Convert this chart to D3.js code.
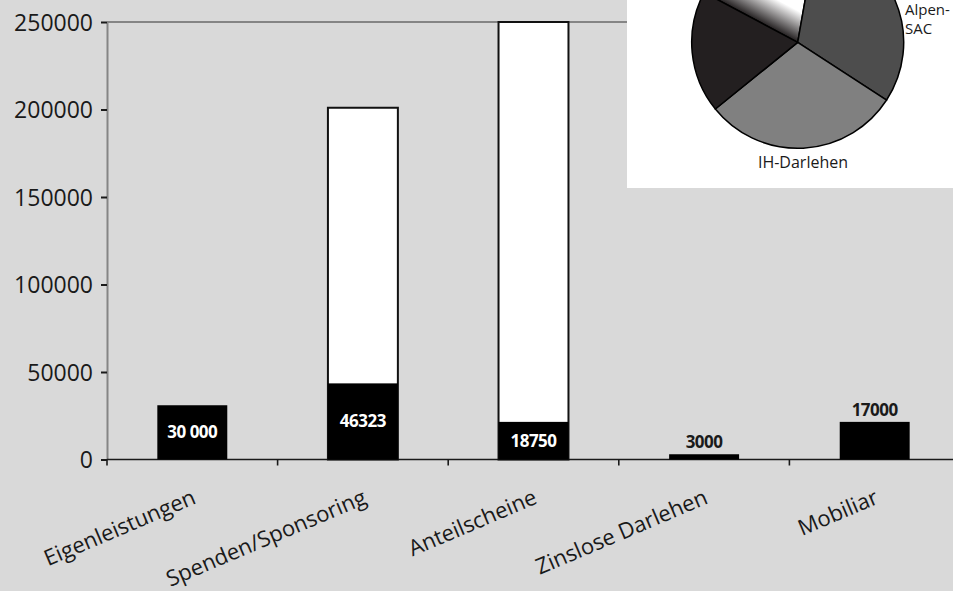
<!DOCTYPE html>
<html>
<head>
<meta charset="utf-8">
<script src="https://cdn.jsdelivr.net/npm/d3@7"></script>
<style>
  body { margin: 0; background: #d9d9d9; }
  svg { display: block; }
</style>
</head>
<body>
<div id="chart"></div>
<script>
// ---- data ----
var categories = ["Eigenleistungen", "Spenden/Sponsoring", "Anteilscheine", "Zinslose Darlehen", "Mobiliar"];
var paidValues = [31000, 43500, 21500, 3000, 21500];      // black part
var targetValues = [null, 201000, 250000, null, null];    // white outlined total
var barLabels = ["30 000", "46323", "18750", "3000", "17000"];
var labelInside = [true, true, true, false, false];
var yTicks = [0, 50000, 100000, 150000, 200000, 250000];

var pieNames = ["", "Alpen-SAC", "IH-Darlehen", ""];
var pieValues = [72, 113, 108, 67];

// ---- layout ----
var W = 953, H = 591;
var svg = d3.select("#chart").append("svg")
  .attr("width", W).attr("height", H);

svg.append("rect").attr("width", W).attr("height", H).attr("fill", "#d9d9d9");

var x = d3.scaleBand()
  .domain(categories)
  .range([107, 960])
  .paddingInner(0.59)
  .paddingOuter(0.295);

var y = d3.scaleLinear()
  .domain([0, 250000])
  .range([459.5, 22]);

// top line at max
svg.append("line")
  .attr("x1", 107).attr("x2", 640)
  .attr("y1", y(250000)).attr("y2", y(250000))
  .attr("stroke", "#858585").attr("stroke-width", 2);

// Y axis
var yAxis = svg.append("g")
  .attr("transform", "translate(107,0)")
  .call(d3.axisLeft(y).tickValues(yTicks).tickSize(6).tickSizeOuter(0).tickPadding(8)
    .tickFormat(d3.format("d")));
yAxis.select(".domain").attr("stroke", "#858585").attr("stroke-width", 2);
yAxis.selectAll(".tick line").attr("stroke", "#1a1a1a").attr("stroke-width", 2);
yAxis.selectAll(".tick text")
  .attr("font-family", "Open Sans, sans-serif")
  .attr("font-size", 23)
  .attr("fill", "#1a1a1a")
  .attr("dy", "0.36em");

// X axis line and boundary ticks
svg.append("line")
  .attr("x1", 107).attr("x2", W)
  .attr("y1", y(0)).attr("y2", y(0))
  .attr("stroke", "#1a1a1a").attr("stroke-width", 1.6);

var bounds = d3.range(categories.length + 1).map(function(i) { return x.range()[0] + i * x.step(); });
svg.selectAll(".xtick")
  .data(bounds)
  .enter()
  .append("line")
    .attr("class", "xtick")
    .attr("x1", function(d) { return d; })
    .attr("x2", function(d) { return d; })
    .attr("y1", y(0)).attr("y2", y(0) + 6)
    .attr("stroke", "#1a1a1a").attr("stroke-width", 1.6);

// X labels, rotated
svg.selectAll(".xlabel")
  .data(categories)
  .enter()
  .append("text")
    .attr("class", "xlabel")
    .attr("transform", function(d) {
      return "translate(" + (x(d) + x.bandwidth() / 2 + 5) + ",503) rotate(-23)";
    })
    .attr("text-anchor", "end")
    .attr("font-family", "Open Sans, sans-serif")
    .attr("font-size", 22)
    .attr("fill", "#1a1a1a")
    .text(function(d) { return d; });

// white outlined totals
svg.selectAll(".target")
  .data(categories.filter(function(d, i) { return targetValues[i] != null; }))
  .enter()
  .append("rect")
    .attr("class", "target")
    .attr("x", function(d) { return x(d); })
    .attr("width", x.bandwidth())
    .attr("y", function(d) { return y(targetValues[categories.indexOf(d)]); })
    .attr("height", function(d) { return y(0) - y(targetValues[categories.indexOf(d)]); })
    .attr("fill", "#ffffff")
    .attr("stroke", "#111")
    .attr("stroke-width", 2);

// black bars
svg.selectAll(".paid")
  .data(categories)
  .enter()
  .append("rect")
    .attr("class", "paid")
    .attr("x", function(d) { return x(d); })
    .attr("width", x.bandwidth())
    .attr("y", function(d, i) { return y(paidValues[i]); })
    .attr("height", function(d, i) { return y(0) - y(paidValues[i]); })
    .attr("fill", "#000");

// bar labels
svg.selectAll(".blabel")
  .data(categories)
  .enter()
  .append("text")
    .attr("class", "blabel")
    .attr("x", function(d) { return x(d) + x.bandwidth() / 2; })
    .attr("y", function(d, i) {
      if (labelInside[i]) return (y(paidValues[i]) + y(0)) / 2 + 6;
      return y(paidValues[i]) - 6;
    })
    .attr("text-anchor", "middle")
    .attr("font-family", "Open Sans, sans-serif")
    .attr("font-weight", "bold")
    .attr("font-size", 17)
    .attr("letter-spacing", "-0.5")
    .attr("fill", function(d, i) { return labelInside[i] ? "#fff" : "#1a1a1a"; })
    .text(function(d, i) { return barLabels[i]; });

// ---- pie inset ----
svg.append("rect")
  .attr("x", 627).attr("y", 0)
  .attr("width", W - 627).attr("height", 188)
  .attr("fill", "#fff");

var cx = 797.7, cy = 42.3, r = 106;
var deg = Math.PI / 180;
var pie = d3.pie().sort(null).startAngle(-62 * deg).endAngle(298 * deg);
var arc = d3.arc().innerRadius(0).outerRadius(r);
var arcs = pie(pieValues);

// gradient for the first slice, perpendicular to its starting edge
var a0 = arcs[0].startAngle;
var ux = Math.cos(a0), uy = Math.sin(a0);
var defs = svg.append("defs");
var grad = defs.append("linearGradient")
  .attr("id", "sliceGrad")
  .attr("gradientUnits", "userSpaceOnUse")
  .attr("x1", 0).attr("y1", 0)
  .attr("x2", ux * 28).attr("y2", uy * 28);
grad.append("stop").attr("offset", "0").attr("stop-color", "#231f20");
grad.append("stop").attr("offset", "1").attr("stop-color", "#ffffff");

var pieColors = ["url(#sliceGrad)", "#4d4d4d", "#808080", "#231f20"];

var pg = svg.append("g").attr("transform", "translate(" + cx + "," + cy + ")");
pg.selectAll("path")
  .data(arcs)
  .enter()
  .append("path")
    .attr("d", arc)
    .attr("fill", function(d, i) { return pieColors[i]; })
    .attr("stroke", "#000")
    .attr("stroke-width", 1.5)
    .attr("stroke-linejoin", "round");

// pie labels
var alpen = pieNames[1].split("-");
svg.append("text")
  .attr("x", 905).attr("y", 15)
  .attr("font-family", "Open Sans, sans-serif")
  .attr("font-size", 15)
  .attr("fill", "#1a1a1a")
  .text(alpen[0] + "-");
svg.append("text")
  .attr("x", 905).attr("y", 34)
  .attr("font-family", "Open Sans, sans-serif")
  .attr("font-size", 15)
  .attr("fill", "#1a1a1a")
  .text(alpen[1]);
svg.append("text")
  .attr("x", 803).attr("y", 167.5)
  .attr("text-anchor", "middle")
  .attr("font-family", "Open Sans, sans-serif")
  .attr("font-size", 16)
  .attr("fill", "#1a1a1a")
  .text(pieNames[2]);
</script>
</body>
</html>
